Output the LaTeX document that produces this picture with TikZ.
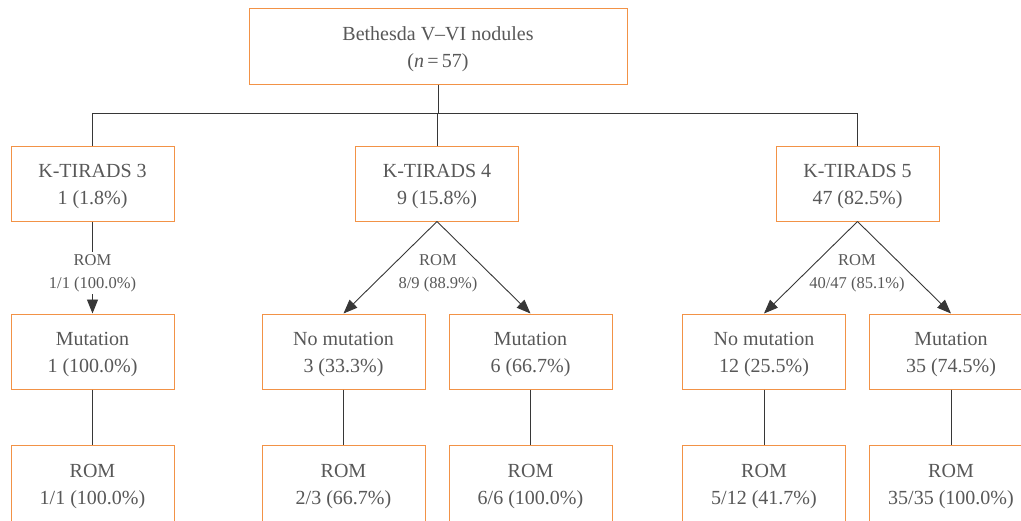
\documentclass[tikz,border=0pt]{standalone}
\usepackage{fontspec}
\setmainfont{Liberation Serif}
\usetikzlibrary{arrows.meta}
\definecolor{boxorange}{RGB}{242,146,70}
\definecolor{txtgray}{RGB}{88,88,88}
\definecolor{linegray}{RGB}{55,55,55}
% taller first line so that the two text lines sit a little low in each box
\newcommand\toproom{\rule{0pt}{20pt}}
\begin{document}
\begin{tikzpicture}[x=1pt,y=-1pt,
  box/.style={draw=boxorange, line width=1pt, fill=white,
    minimum width=163pt, minimum height=75pt, inner sep=0pt,
    text=txtgray, font=\fontsize{20}{27}\selectfont, align=center},
  note/.style={text=txtgray, font=\fontsize{16.5}{23}\selectfont,
    align=center, inner sep=2pt},
  link/.style={draw=linegray, line width=0.9pt},
  arr/.style={link, -{Triangle[length=14pt,width=11pt]}}]
\useasboundingbox (0,0) rectangle (1021,520);
\clip (0,0) rectangle (1021,520);

% root
\node[box, minimum width=378pt, minimum height=76pt] (root) at (438,46)
  {\toproom Bethesda V–VI nodules\\(\textit{n}\,=\,57)};

% K-TIRADS categories
\node[box] (k3) at (92.5,183.5) {\toproom K-TIRADS 3\\1 (1.8\%)};
\node[box] (k4) at (437,183.5) {\toproom K-TIRADS 4\\9 (15.8\%)};
\node[box] (k5) at (857.5,183.5) {\toproom K-TIRADS 5\\47 (82.5\%)};

% mutation status
\node[box] (m1)  at (92.5,351.5) {\toproom Mutation\\1 (100.0\%)};
\node[box] (n3)  at (343.5,351.5) {\toproom No mutation\\3 (33.3\%)};
\node[box] (m6)  at (530.5,351.5) {\toproom Mutation\\6 (66.7\%)};
\node[box] (n12) at (764,351.5) {\toproom No mutation\\12 (25.5\%)};
\node[box] (m35) at (951,351.5) {\toproom Mutation\\35 (74.5\%)};

% risk of malignancy (boxes run past the lower edge)
\tikzset{rombox/.style={box, minimum height=84pt}}
\node[rombox] (r1)  at (92.5,487) {ROM\\1/1 (100.0\%)};
\node[rombox] (r3)  at (343.5,487) {ROM\\2/3 (66.7\%)};
\node[rombox] (r6)  at (530.5,487) {ROM\\6/6 (100.0\%)};
\node[rombox] (r12) at (764,487) {ROM\\5/12 (41.7\%)};
\node[rombox] (r35) at (951,487) {ROM\\35/35 (100.0\%)};

% bus from root to categories
\coordinate (bus) at (438,113);
\draw[link] (root.south) -- (bus);
\draw[link] (k3.north) -- (k3.north |- bus) -- (k5.north |- bus) -- (k5.north);
\draw[link] (k4.north) -- (k4.north |- bus);

% category to mutation arrows
\draw[arr] (k3.south) -- (m1.north);
\node[note, fill=white] (l3) at (92.5,273) {ROM\\1/1 (100.0\%)};

\draw[arr] (k4.south) -- (n3.north);
\draw[arr] (k4.south) -- (m6.north);
\node[note] (l4) at (438,273) {ROM\\8/9 (88.9\%)};

\draw[arr] (k5.south) -- (n12.north);
\draw[arr] (k5.south) -- (m35.north);
\node[note] (l5) at (857,273) {ROM\\40/47 (85.1\%)};

% mutation to ROM
\draw[link] (m1.south) -- (r1.north);
\draw[link] (n3.south) -- (r3.north);
\draw[link] (m6.south) -- (r6.north);
\draw[link] (n12.south) -- (r12.north);
\draw[link] (m35.south) -- (r35.north);
\end{tikzpicture}
\end{document}
